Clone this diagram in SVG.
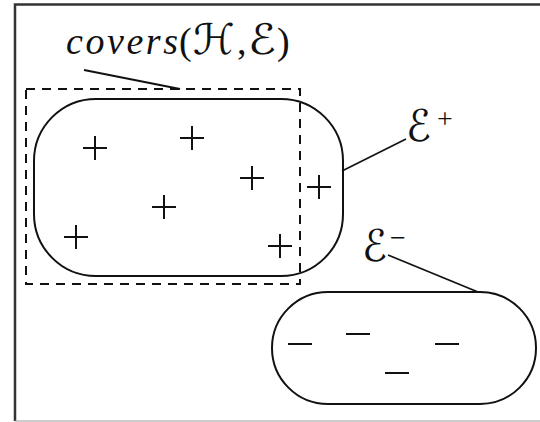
<svg xmlns="http://www.w3.org/2000/svg" width="540" height="422" viewBox="0 0 540 422">
<style>
.frame{fill:none;stroke:#333;stroke-width:2.5}
.shape{fill:none;stroke:#111;stroke-width:2}
.dash{fill:none;stroke:#111;stroke-width:2;stroke-dasharray:9,7}
.lead{stroke:#111;stroke-width:1.8;fill:none}
.sign{stroke:#111;stroke-width:2;fill:none}
.lbl{font-family:"Liberation Serif","DejaVu Serif",serif;font-style:italic;fill:#111}
.cal{font-family:"DejaVu Sans","Noto Sans",serif;fill:#111}
.up{font-family:"Liberation Serif","DejaVu Serif",serif;fill:#111}
</style>
<defs>
<path id="plus" d="M-12,0H12M0,-12V12"/>
<path id="minus" d="M-12,0H12"/>
</defs>
<rect width="540" height="422" fill="#fff"/>
<g id="frame">
<path class="frame" d="M15,421V4.5H540"/>
<path stroke="#999" stroke-width="1" d="M15,421H540"/>
</g>
<g id="covers">
<rect class="dash" x="26" y="89" width="274" height="195"/>
<text class="lbl" x="66" y="54" font-size="38" textLength="112" lengthAdjust="spacing">covers</text>
<text class="up" x="179" y="54" font-size="38">(</text>
<text class="cal" x="193" y="54" font-size="42" textLength="42" lengthAdjust="spacingAndGlyphs">ℋ</text>
<text class="up" x="237" y="54" font-size="38">,</text>
<text class="cal" x="248" y="54" font-size="42" textLength="28" lengthAdjust="spacingAndGlyphs">ℰ</text>
<text class="up" x="277" y="54" font-size="38">)</text>
</g>
<g id="Eplus">
<rect class="shape" x="34" y="99" width="309" height="177" rx="62" ry="62"/>
<g class="sign">
<use href="#plus" x="95" y="148"/>
<use href="#plus" x="192" y="138"/>
<use href="#plus" x="252" y="178"/>
<use href="#plus" x="319" y="187"/>
<use href="#plus" x="164" y="207"/>
<use href="#plus" x="76" y="237"/>
<use href="#plus" x="280" y="246"/>
</g>
<text class="cal" x="406" y="141" font-size="44" textLength="25" lengthAdjust="spacingAndGlyphs">ℰ</text>
<text class="up" x="437" y="128" font-size="28">+</text>
</g>
<g id="Eminus">
<rect class="shape" x="272" y="292" width="264" height="112" rx="56" ry="56"/>
<g class="sign">
<use href="#minus" x="300" y="344"/>
<use href="#minus" x="358" y="334"/>
<use href="#minus" x="447" y="344"/>
<use href="#minus" x="397" y="373"/>
</g>
<text class="cal" x="362" y="261" font-size="44" textLength="25" lengthAdjust="spacingAndGlyphs">ℰ</text>
<text class="up" x="390" y="247" font-size="28">−</text>
</g>
<g id="connectors">
<path class="lead" d="M84,70L180,89"/>
<path class="lead" d="M342,171L406,139"/>
<path class="lead" d="M388,255L478,292"/>
</g>
</svg>
